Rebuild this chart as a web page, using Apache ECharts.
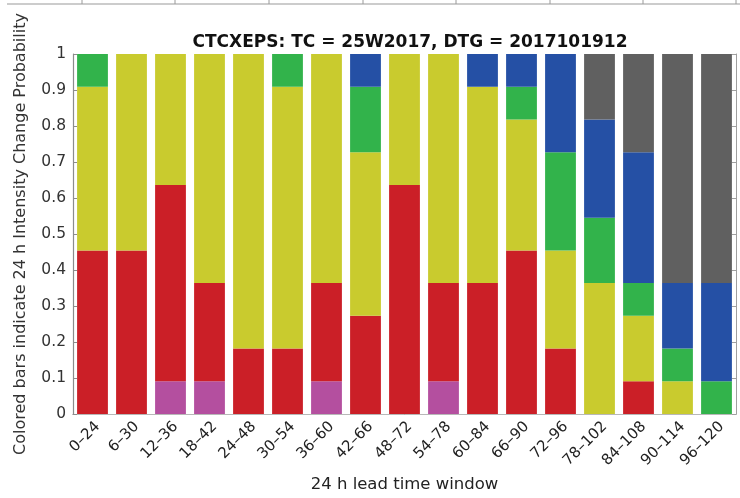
<!DOCTYPE html>
<html>
<head>
<meta charset="utf-8">
<script src="https://cdn.jsdelivr.net/npm/echarts@6/dist/echarts.min.js"></script>
<style>
  html, body { margin: 0; padding: 0; background: #ffffff; }
  #chart { width: 740px; height: 498px; }
</style>
</head>
<body>
<div id="chart"></div>
<script>
// 24 h lead time windows
const categories = ['0–24', '6–30', '12–36', '18–42', '24–48', '30–54', '36–60', '42–66', '48–72',
  '54–78', '60–84', '66–90', '72–96', '78–102', '84–108', '90–114', '96–120'];

// Probability of each intensity-change class per window (stacked bottom to top)
const magentaProb = [0, 0, 0.0909, 0.0909, 0, 0, 0.0909, 0, 0, 0.0909, 0, 0, 0, 0, 0, 0, 0];
const redProb     = [0.4545, 0.4545, 0.5455, 0.2727, 0.1818, 0.1818, 0.2727, 0.2727, 0.6364,
  0.2727, 0.3636, 0.4545, 0.1818, 0, 0.0909, 0, 0];
const yellowProb  = [0.4545, 0.5455, 0.3636, 0.6364, 0.8182, 0.7273, 0.6364, 0.4545, 0.3636,
  0.6364, 0.5455, 0.3636, 0.2727, 0.3636, 0.1818, 0.0909, 0];
const greenProb   = [0.0909, 0, 0, 0, 0, 0.0909, 0, 0.1818, 0, 0, 0, 0.0909, 0.2727, 0.1818,
  0.0909, 0.0909, 0.0909];
const blueProb    = [0, 0, 0, 0, 0, 0, 0, 0.0909, 0, 0, 0.0909, 0.0909, 0.2727, 0.2727, 0.3636,
  0.1818, 0.2727];
const grayProb    = [0, 0, 0, 0, 0, 0, 0, 0, 0, 0, 0, 0, 0, 0.1818, 0.2727, 0.6364, 0.6364];

const yTicks = [0, 0.1, 0.2, 0.3, 0.4, 0.5, 0.6, 0.7, 0.8, 0.9, 1];

const layers = [
  { name: 'magenta', data: magentaProb, color: '#b44f9f' },
  { name: 'red',     data: redProb,     color: '#cb1f27' },
  { name: 'yellow',  data: yellowProb,  color: '#c9cb2e' },
  { name: 'green',   data: greenProb,   color: '#32b34b' },
  { name: 'blue',    data: blueProb,    color: '#2550a5' },
  { name: 'gray',    data: grayProb,    color: '#606060' }
];

const font = 'DejaVu Sans';
const chart = echarts.init(document.getElementById('chart'), null, { renderer: 'canvas' });

// strip of a neighbouring panel's frame along the very top
const topTicks = [82, 175, 269, 363, 456, 550, 643, 736];
const graphics = [{
  type: 'line', shape: { x1: 7, y1: 4, x2: 740, y2: 4 },
  style: { stroke: '#9a9a9a', lineWidth: 1.2 }
}];
topTicks.forEach(x => graphics.push({
  type: 'line', shape: { x1: x, y1: 0, x2: x, y2: 4 },
  style: { stroke: '#9a9a9a', lineWidth: 1 }
}));

chart.setOption({
  animation: false,
  backgroundColor: '#ffffff',
  title: {
    text: 'CTCXEPS: TC = 25W2017, DTG = 2017101912',
    left: 405, top: 29, textAlign: 'center',
    textStyle: { fontFamily: font, fontSize: 17, fontWeight: 'bold', color: '#111111' }
  },
  graphic: graphics,
  grid: { left: 73, right: 4, top: 54, bottom: 77, containLabel: false },
  xAxis: [{
    type: 'category',
    data: categories,
    name: '24 h lead time window',
    nameLocation: 'middle',
    nameGap: 62,
    nameTextStyle: { fontFamily: font, fontSize: 16.5, color: '#222222' },
    axisLine: { lineStyle: { color: '#8c8c8c', width: 1.2 } },
    axisTick: { show: false },
    axisLabel: {
      rotate: 45, interval: 0, margin: 5, verticalAlign: 'top',
      fontFamily: font, fontSize: 15, color: '#222222'
    }
  }, {
    type: 'category',
    data: categories,
    position: 'top',
    axisLine: { lineStyle: { color: '#b8b8b8', width: 1 } },
    axisTick: { show: false },
    axisLabel: { show: false }
  }],
  yAxis: [{
    type: 'value',
    min: 0, max: 1, interval: 0.1,
    name: 'Colored bars indicate 24 h Intensity Change Probability',
    nameLocation: 'middle',
    nameGap: 44,
    nameTextStyle: { fontFamily: font, fontSize: 16, color: '#333333' },
    axisLine: { show: true, lineStyle: { color: '#8c8c8c', width: 1.2 } },
    axisTick: { show: true, inside: true, length: 4, lineStyle: { color: '#8c8c8c' } },
    splitLine: { show: false },
    axisLabel: {
      margin: 7, fontFamily: font, fontSize: 15.5, color: '#333333',
      formatter: v => {
        const t = yTicks.find(k => Math.abs(k - v) < 1e-6);
        return t === undefined ? '' : String(t);
      }
    }
  }, {
    type: 'value',
    min: 0, max: 1, interval: 0.1,
    position: 'right',
    axisLine: { show: true, lineStyle: { color: '#a0a0a0', width: 1 } },
    axisTick: { show: true, inside: true, length: 4, lineStyle: { color: '#a0a0a0' } },
    splitLine: { show: false },
    axisLabel: { show: false }
  }],
  series: layers.map(l => ({
    name: l.name,
    type: 'bar',
    stack: 'prob',
    data: l.data,
    barCategoryGap: '21%',
    itemStyle: { color: l.color },
    emphasis: { disabled: true }
  }))
});
</script>
</body>
</html>
